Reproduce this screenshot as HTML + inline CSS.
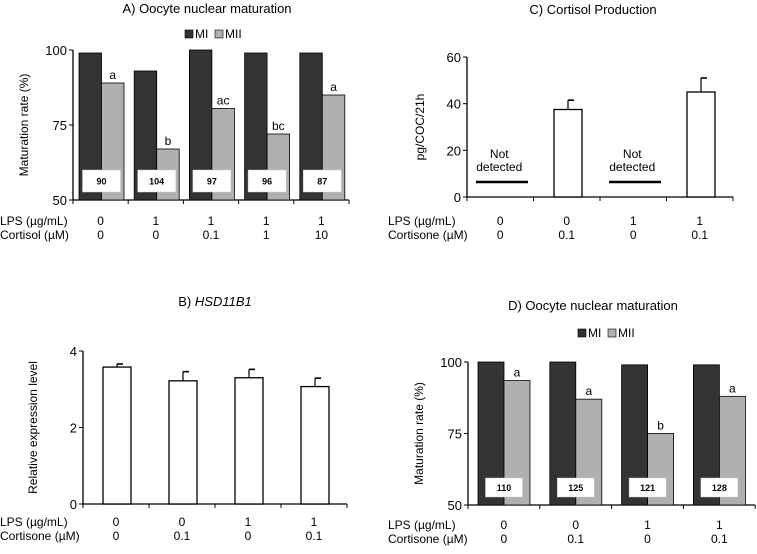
<!DOCTYPE html>
<html><head><meta charset="utf-8"><style>
body{margin:0;background:#fff;width:757px;height:549px;overflow:hidden}
svg{font-family:"Liberation Sans",Arial,sans-serif}
</style></head><body>
<svg id="s" width="757" height="549" xmlns="http://www.w3.org/2000/svg"></svg>
<script>
// Panel A data
const aMI=[99,93,100,99,99];
const aMII=[89,67,80.5,72,85];
const aLetters=["a","b","ac","bc","a"];
const aN=["90","104","97","96","87"];
const aLPS=["0","1","1","1","1"];
const aCort=["0","0","0.1","1","10"];
const aTicks=[50,75,100];
// Panel B data
const bVals=[3.58,3.22,3.3,3.07];
const bErr=[0.08,0.24,0.22,0.22];
const bTicks=[0,2,4];
const bLPS=["0","0","1","1"];
const bCort=["0","0.1","0","0.1"];
// Panel C data
const cVals=[null,37.5,null,45];
const cErr=[0,4,0,6];
const cTicks=[0,20,40,60];
const cLPS=["0","0","1","1"];
const cCort=["0","0.1","0","0.1"];
// Panel D data
const dMI=[100,100,99,99];
const dMII=[93.5,87,75,88];
const dLetters=["a","a","b","a"];
const dN=["110","125","121","128"];
const dLPS=["0","0","1","1"];
const dCort=["0","0.1","0","0.1"];
const dTicks=[50,75,100];

const S=document.getElementById('s');
function el(t,a,txt){const e=document.createElementNS('http://www.w3.org/2000/svg',t);for(const k in a)e.setAttribute(k,a[k]);if(txt!==undefined)e.textContent=txt;S.appendChild(e);return e;}

function axes(o){
  const y=v=>o.y0-(v-o.vmin)/(o.vmax-o.vmin)*(o.y0-o.y1);
  let e=el('line',{x1:o.x0,y1:o.y1,x2:o.x0,y2:o.y0,stroke:'#000','stroke-width':1.3});
  
  e=el('line',{x1:o.x0,y1:o.y0,x2:o.x0+o.n*o.cw,y2:o.y0,stroke:'#000','stroke-width':1.3});
  
  o.ticks.forEach(t=>{
    el('line',{x1:o.x0-4,y1:y(t),x2:o.x0,y2:y(t),stroke:'#000'});
    e=el('text',{x:o.x0-6,y:y(t)+5,'text-anchor':'end','font-size':13},t);
    
  });
  for(let i=0;i<=o.n;i++)el('line',{x1:o.x0+i*o.cw,y1:o.y0,x2:o.x0+i*o.cw,y2:o.y0+4,stroke:'#000'});
  e=el('text',{x:0,y:0,transform:`translate(${o.yl[0]},${(o.y0+o.y1)/2}) rotate(-90)`,'text-anchor':'middle','font-size':12},o.ylabel);
  
  e=el('text',{x:o.lx,y:o.r1,'font-size':12},'LPS (µg/mL)');
  
  e=el('text',{x:o.lx,y:o.r1+14,'font-size':12},o.cname);
  
  o.lps.forEach((v,i)=>{
    const cx=o.x0+(i+0.5)*o.cw+(o.shift||0);
    e=el('text',{x:cx,y:o.r1,'text-anchor':'middle','font-size':12},v);
    
    e=el('text',{x:cx,y:o.r1+14,'text-anchor':'middle','font-size':12},o.cort[i]);
    
  });
  return y;
}
function title(x,y,txt,name,ital){
  const e=el('text',{x:x,y:y,'text-anchor':'middle','font-size':13});
  if(ital){const t1=document.createElementNS('http://www.w3.org/2000/svg','tspan');t1.textContent='B) ';e.appendChild(t1);const t2=document.createElementNS('http://www.w3.org/2000/svg','tspan');t2.setAttribute('font-style','italic');t2.textContent=ital;e.appendChild(t2);}
  else e.textContent=txt;
  
}
function legend(x,y,p){
  let e=el('rect',{x:x,y:y-8,width:8,height:8,fill:'#333',stroke:'#000','stroke-width':0.6});
  
  e=el('text',{x:x+10,y:y,'font-size':12},'MI');
  
  e=el('rect',{x:x+30,y:y-8,width:8,height:8,fill:'#b0b0b0',stroke:'#000','stroke-width':0.6});
  
  e=el('text',{x:x+40,y:y,'font-size':12},'MII');
  
}
function groupBars(o,y,mi,mii,letters,ns){
  mi.forEach((v,i)=>{
    const bx=o.x0+i*o.cw+o.off;
    let e=el('rect',{x:bx,y:y(v),width:o.bw,height:o.y0-y(v),fill:'#333',stroke:'#000','stroke-width':0.8});
    
    e=el('rect',{x:bx+o.bw,y:y(mii[i]),width:o.bw,height:o.y0-y(mii[i]),fill:'#b0b0b0',stroke:'#000','stroke-width':0.8});
    
    e=el('text',{x:bx+1.5*o.bw,y:y(mii[i])-4,'text-anchor':'middle','font-size':12},letters[i]);
    
    e=el('rect',{x:bx+o.bw-o.boxw/2,y:o.boxy,width:o.boxw,height:o.boxh,fill:'#fff',stroke:'#ccc','stroke-width':0.5});
    
    e=el('text',{x:bx+o.bw,y:o.boxy+o.boxh/2+3.5,'text-anchor':'middle','font-size':9,'font-weight':'bold'},ns[i]);
    
  });
}
function openBars(o,y,vals,err){
  vals.forEach((v,i)=>{
    const bx=o.x0+i*o.cw+o.off;
    if(v===null){
      let e=el('line',{x1:o.x0+i*o.cw+9,y1:o.ndy,x2:o.x0+i*o.cw+61,y2:o.ndy,stroke:'#000','stroke-width':2.5});
      
      const cx=o.x0+(i+0.5)*o.cw-1;
      e=el('text',{x:cx,y:o.ndy-24,'text-anchor':'middle','font-size':12},'Not');
      
      e=el('text',{x:cx,y:o.ndy-11,'text-anchor':'middle','font-size':12},'detected');
      
      return;
    }
    const cx=bx+o.bw/2, top=y(v+err[i]);
    let e=el('line',{x1:cx,y1:y(v),x2:cx,y2:top,stroke:'#000','stroke-width':1.2});
    
    el('line',{x1:cx,y1:top,x2:cx+6,y2:top,stroke:'#000','stroke-width':1.6});
    e=el('rect',{x:bx,y:y(v),width:o.bw,height:o.y0-y(v),fill:'#fff',stroke:'#000','stroke-width':1.3});
    
  });
}

// Panel A
title(207,13,'A) Oocyte nuclear maturation','a-title');
legend(185,38,'a');
let oA={p:'a',x0:73,y0:200,y1:50,vmin:50,vmax:100,n:5,cw:55.2,ticks:aTicks,ylabel:'Maturation rate (%)',yl:[28],lx:0,r1:225,cname:'Cortisol (µM)',lps:aLPS,cort:aCort,off:6,bw:22.5,boxy:170,boxh:22,boxw:38};
let yA=axes(oA);groupBars(oA,yA,aMI,aMII,aLetters,aN);

// Panel B
title(215,306,'','b-title','HSD11B1');
let oB={p:'b',x0:83,y0:504,y1:351,vmin:0,vmax:4,n:4,cw:66,ticks:bTicks,ylabel:'Relative expression level',yl:[37],lx:0,r1:526,cname:'Cortisone (µM)',lps:bLPS,cort:bCort,off:20,bw:28};
let yB=axes(oB);openBars(oB,yB,bVals,bErr);

// Panel C
title(593,14,'C) Cortisol Production','c-title');
let oC={p:'c',x0:467,y0:197,y1:57,vmin:0,vmax:60,n:4,cw:66.5,ticks:cTicks,ylabel:'pg/COC/21h',yl:[424],lx:388,r1:225,cname:'Cortisone (µM)',lps:cLPS,cort:cCort,off:20.5,bw:28,ndy:182};
let yC=axes(oC);openBars(oC,yC,cVals,cErr);

// Panel D
title(593,310,'D) Oocyte nuclear maturation','d-title');
legend(578,337,'d');
let oD={p:'d',x0:468,y0:505,y1:362,vmin:50,vmax:100,n:4,cw:71.8,ticks:dTicks,ylabel:'Maturation rate (%)',yl:[423],lx:388,r1:529,cname:'Cortisone (µM)',lps:dLPS,cort:dCort,off:10,bw:26,boxy:478,boxh:19,boxw:37};
let yD=axes(oD);groupBars(oD,yD,dMI,dMII,dLetters,dN);
</script>
</body></html>
